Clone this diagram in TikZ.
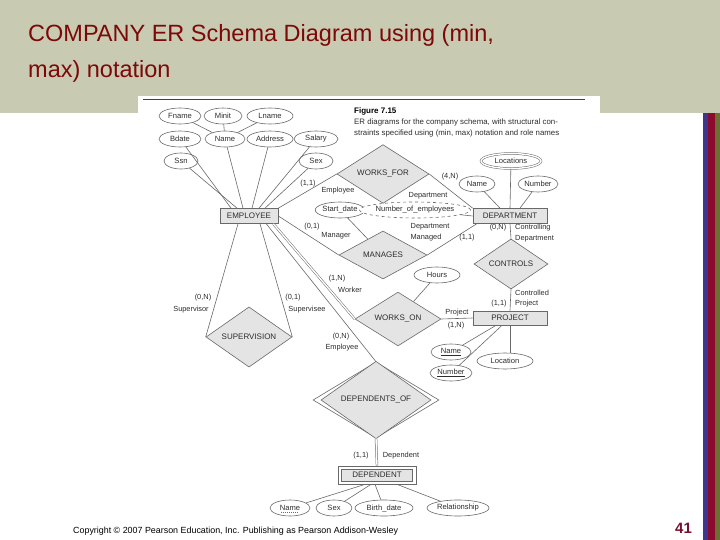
\documentclass[tikz,border=0pt]{standalone}
\usepackage{fontspec}
\setmainfont{Liberation Sans}
\usetikzlibrary{shapes.geometric}
\definecolor{band}{RGB}{200,202,178}
\definecolor{ttl}{RGB}{125,8,8}
\definecolor{lnc}{RGB}{105,105,105}
\definecolor{shd}{RGB}{228,228,228}
\definecolor{txc}{RGB}{45,45,45}
\definecolor{sblue}{RGB}{60,55,140}
\definecolor{sred}{RGB}{140,10,45}
\definecolor{solive}{RGB}{105,112,50}
\definecolor{pnum}{RGB}{120,15,45}
\begin{document}
\begin{tikzpicture}[x=1pt,y=-1pt,
 ln/.style={draw=lnc,line width=0.6pt},
 dbl/.style={draw=lnc,line width=0.5pt,double=white,double distance=1.4pt},
 attr/.style={ellipse,draw=lnc,line width=0.6pt,fill=white,inner sep=0pt,minimum height=16pt,text=txc,font=\fontsize{7.6}{8}\selectfont},
 ent/.style={rectangle,draw=lnc,line width=0.7pt,fill=shd,inner sep=0pt,minimum height=15pt,text=txc,font=\fontsize{8}{9}\selectfont},
 rel/.style={diamond,draw=lnc,line width=0.6pt,fill=shd,inner sep=0pt,text=txc,font=\fontsize{8}{9}\selectfont},
 lbl/.style={inner sep=0pt,text=txc,font=\fontsize{7.4}{8}\selectfont},
]
\useasboundingbox (0,0) rectangle (720,540);
\fill[white] (0,0) rectangle (720,540);
\fill[band] (0,0) rectangle (720,113);
\fill[white] (138,96) rectangle (600,520);
\fill[sblue] (703,113) rectangle (708,540);
\fill[sred] (708,113) rectangle (715,540);
\fill[solive] (715,113) rectangle (720,540);

% title
\node[anchor=base west,inner sep=0pt,text=ttl,font=\fontsize{23.5}{28}\selectfont] (t1) at (28,42) {COMPANY ER Schema Diagram using (min,};
\node[anchor=base west,inner sep=0pt,text=ttl,font=\fontsize{23.5}{28}\selectfont] (t2) at (28,78) {max) notation};

% figure header
\draw[line width=0.9pt,black!75] (143,99) -- (585,99);
\node[anchor=base west,inner sep=0pt,font=\bfseries\fontsize{8}{9}\selectfont] (cap1) at (354,114) {Figure 7.15};
\node[anchor=base west,inner sep=0pt,text=txc,font=\fontsize{7.85}{9}\selectfont] (cap2) at (354,125) {ER diagrams for the company schema, with structural con-};
\node[anchor=base west,inner sep=0pt,text=txc,font=\fontsize{7.85}{9}\selectfont] (cap3) at (354,136) {straints specified using (min, max) notation and role names};

% employee attributes
\node[attr,minimum width=42pt] (fname) at (180,116) {Fname};
\node[attr,minimum width=38pt] (minit) at (223,116) {Minit};
\node[attr,minimum width=46pt] (lname) at (270,116) {Lname};
\node[attr,minimum width=42pt] (bdate) at (180,139) {Bdate};
\node[attr,minimum width=40pt] (ename) at (225,139) {Name};
\node[attr,minimum width=46pt] (address) at (270,139) {Address};
\node[attr,minimum width=44pt] (salary) at (316,139) {Salary};
\node[attr,minimum width=34pt] (ssn) at (181,161) {Ssn};
\node[attr,minimum width=34pt] (sex) at (316,161) {Sex};

\draw[ln] (fname) -- (ename);
\draw[ln] (minit) -- (ename);
\draw[ln] (lname) -- (ename);

% entities
\node[ent,minimum width=58pt] (emp) at (249,216) {EMPLOYEE};
\node[ent,minimum width=74pt] (dept) at (510,216) {DEPARTMENT};
\node[ent,minimum width=74pt,minimum height=14pt] (proj) at (510,318) {PROJECT};

\draw[ln] (bdate) -- ([xshift=-18pt]emp.north);
\draw[ln] (ssn) -- ([xshift=-12pt]emp.north);
\draw[ln] (ename) -- ([xshift=-6pt]emp.north);
\draw[ln] (address) -- ([xshift=3pt]emp.north);
\draw[ln] (salary) -- ([xshift=10pt]emp.north);
\draw[ln] (sex) -- ([xshift=16pt]emp.north);

% department attributes
\node[attr,minimum width=60pt,minimum height=15pt,double=white,double distance=1.4pt,line width=0.5pt] (locs) at (511,161) {Locations};
\node[attr,minimum width=36pt] (dname) at (477,184) {Name};
\node[attr,minimum width=40pt] (dnum) at (538,184) {Number};
\node[attr,minimum width=44pt] (sdate) at (340,210) {Start\_date};
\node[attr,minimum width=96pt,dashed] (noe) at (415,210) {Number\_of\_employees};

\draw[ln] (locs) -- (dept.north);
\draw[ln] (dname) -- ([xshift=-10pt]dept.north);
\draw[ln] (dnum) -- ([xshift=10pt]dept.north);
\draw[ln] (noe) -- (dept.west);

% relationships
\node[rel,minimum width=92pt,minimum height=52pt] (wf) at (383,174) {WORKS\_FOR};
\node[rel,minimum width=88pt,minimum height=48pt] (man) at (383,255) {MANAGES};
\node[rel,minimum width=74pt,minimum height=42pt] (ctl) at (511,264) {CONTROLS};
\node[rel,minimum width=86pt,minimum height=50pt] (won) at (398,319) {WORKS\_ON};
\node[rel,minimum width=86pt,minimum height=48pt] (sup) at (249,337) {SUPERVISION};
\node[diamond,draw=lnc,line width=0.6pt,fill=white,inner sep=0pt,minimum width=126pt,minimum height=76pt] (depof) at (376,400) {};
\node[rel,minimum width=110pt,minimum height=64pt] (depofi) at (376,400) {DEPENDENTS\_OF};
\node[rectangle,draw=lnc,line width=0.7pt,fill=white,inner sep=0pt,minimum width=78pt,minimum height=18pt] (dep) at (377,475) {};
\node[ent,minimum width=71pt,minimum height=12pt] (depi) at (377,475) {DEPENDENT};

\node[attr,minimum width=46pt] (hours) at (437,275) {Hours};
\node[attr,minimum width=40pt] (pname) at (451,352) {\underline{Name}};
\node[attr,minimum width=42pt] (pnum) at (451,373) {\underline{Number}};
\node[attr,minimum width=56pt] (ploc) at (505,361) {Location};

% connectors
\draw[ln] (emp.north east) -- (wf.west);
\draw[ln] (wf.east) -- (dept.north west);
\draw[ln] (emp.east) -- (man.west);
\draw[ln] (man.east) -- ([xshift=4pt]dept.south west);
\draw[ln] (sdate) -- (man);
\draw[ln] (dept.south) -- (ctl.north);
\draw[ln] (ctl.south) -- (proj.north);
\draw[ln] (proj.south) -- (proj.south |- ploc.north);
\draw[ln] (hours) -- (won);
\draw[ln] (won.east) -- (proj.west);
\draw[dbl] ([xshift=-5pt]emp.south east) -- (won.west);
\draw[ln] ([xshift=-12pt]emp.south east) -- (depof.north);
\draw[ln] ([xshift=-11pt]emp.south) -- (sup.west);
\draw[ln] ([xshift=11pt]emp.south) -- (sup.east);
\draw[ln] (pname) -- ([xshift=-14pt]proj.south);
\draw[ln] (pnum) -- ([xshift=-8pt]proj.south);
\draw[dbl] (depof.south) -- (dep.north);

% dependent attributes
\node[attr,minimum width=40pt] (dpname) at (290,508) {Name};
\draw[lnc,line width=0.5pt,dash pattern=on 1pt off 1pt] ([xshift=-9pt,yshift=-4.5pt]dpname.center) -- ([xshift=9pt,yshift=-4.5pt]dpname.center);
\node[attr,minimum width=36pt] (dpsex) at (334,508) {Sex};
\node[attr,minimum width=58pt] (dpbd) at (384,508) {Birth\_date};
\node[attr,minimum width=62pt] (dprel) at (458,508) {Relationship};
\draw[ln] (dpname) -- ([xshift=-12pt]dep.south);
\draw[ln] (dpsex) -- ([xshift=-6pt]dep.south);
\draw[ln] (dpbd) -- ([xshift=-2pt]dep.south);
\draw[ln] (dprel) -- ([xshift=20pt]dep.south);

% role / constraint labels
\node[lbl] (l1) at (308,184) {(1,1)};
\node[lbl] (l2) at (338,191) {Employee};
\node[lbl] (l3) at (450,177) {(4,N)};
\node[lbl] (l4) at (428,196) {Department};
\node[lbl] (l5) at (312,227) {(0,1)};
\node[lbl] (l6) at (336,236) {Manager};
\node[lbl] (l7) at (430,227) {Department};
\node[lbl] (l8) at (426,238) {Managed};
\node[lbl] (l9) at (467,238) {(1,1)};
\node[lbl] (l10) at (498,228) {(0,N)};
\node[lbl,anchor=west] (l11) at (515,228) {Controlling};
\node[lbl,anchor=west] (l12) at (515,239) {Department};
\node[lbl,anchor=west] (l13) at (515,293) {Controlled};
\node[lbl,anchor=west] (l14) at (515,304) {Project};
\node[lbl] (l15) at (499,304) {(1,1)};
\node[lbl] (l16) at (337,279) {(1,N)};
\node[lbl] (l17) at (350,290) {Worker};
\node[lbl] (l18) at (457,313) {Project};
\node[lbl] (l19) at (456,326) {(1,N)};
\node[lbl] (l20) at (203,298) {(0,N)};
\node[lbl] (l21) at (191,310) {Supervisor};
\node[lbl] (l22) at (293,298) {(0,1)};
\node[lbl] (l23) at (307,310) {Supervisee};
\node[lbl] (l24) at (341,337) {(0,N)};
\node[lbl] (l25) at (342,348) {Employee};
\node[lbl] (l26) at (361,456) {(1,1)};
\node[lbl] (l27) at (401,456) {Dependent};

% footer
\node[anchor=base west,inner sep=0pt,font=\fontsize{8.9}{10}\selectfont] (copy) at (73,533) {Copyright \textcopyright{} 2007 Pearson Education, Inc. Publishing as Pearson Addison-Wesley};
\node[anchor=base west,inner sep=0pt,text=pnum,font=\bfseries\fontsize{15}{16}\selectfont] (pg) at (675,533) {41};
\end{tikzpicture}
\end{document}
